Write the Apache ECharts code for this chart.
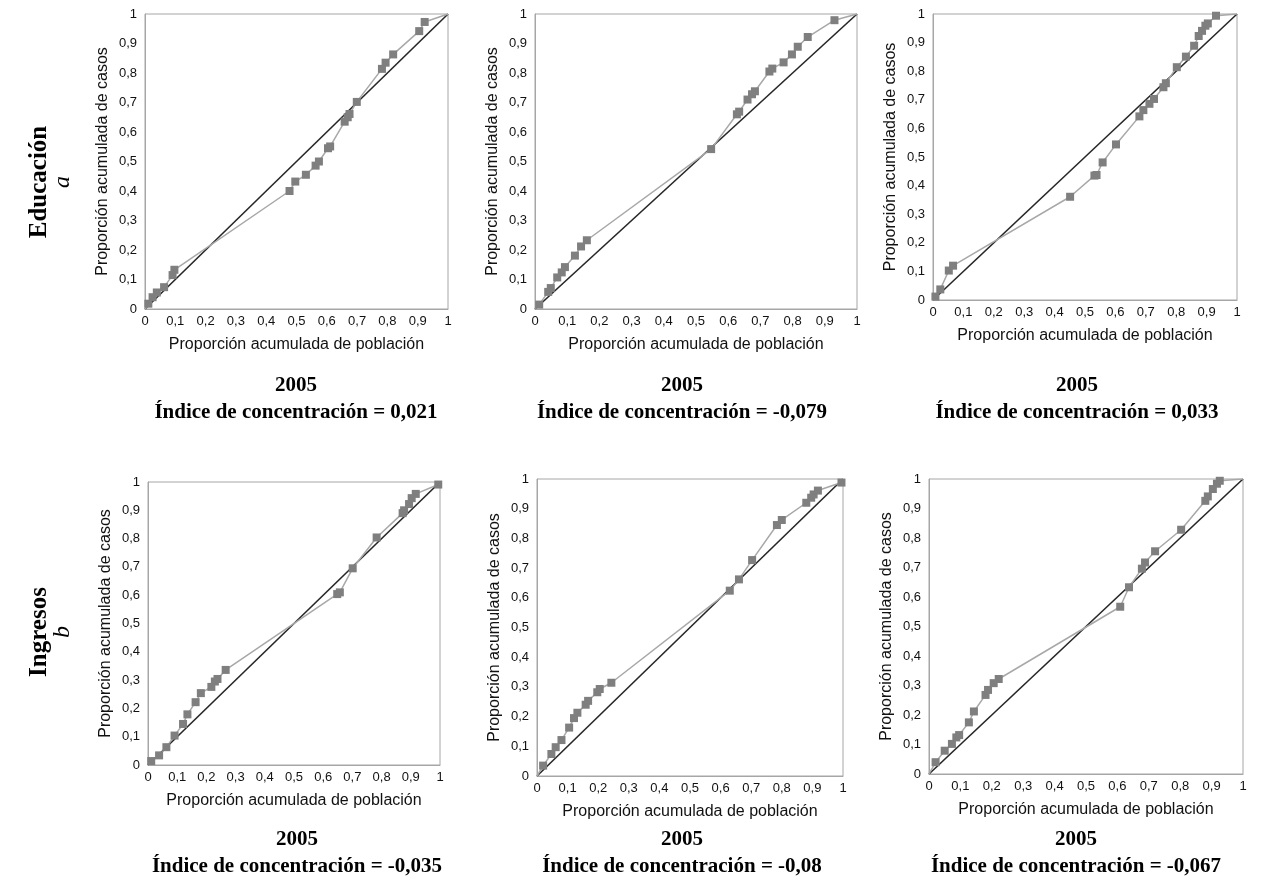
<!DOCTYPE html>
<html>
<head>
<meta charset="utf-8">
<script src="https://cdn.jsdelivr.net/npm/echarts@6/dist/echarts.min.js"></script>
<style>
html,body{margin:0;padding:0;background:#fff;}
#chart{width:1287px;height:890px;}
</style>
</head>
<body>
<div id="chart"></div>
<script>
// ---- data (cumulative population share, cumulative case share) ----
const educacion1 = [[0,0],[0.011,0.018],[0.025,0.04],[0.039,0.056],[0.063,0.074],[0.091,0.115],[0.097,0.133],[0.477,0.40],[0.496,0.432],[0.531,0.455],[0.563,0.486],[0.574,0.50],[0.604,0.545],[0.611,0.551],[0.659,0.635],[0.669,0.65],[0.675,0.661],[0.699,0.702],[0.782,0.814],[0.794,0.835],[0.819,0.863],[0.905,0.942],[0.923,0.973],[1,1]];
const educacion2 = [[0,0],[0.013,0.015],[0.041,0.058],[0.049,0.071],[0.069,0.107],[0.083,0.124],[0.093,0.142],[0.124,0.181],[0.143,0.212],[0.161,0.233],[0.547,0.542],[0.627,0.660],[0.634,0.669],[0.660,0.710],[0.674,0.728],[0.683,0.738],[0.728,0.805],[0.737,0.815],[0.772,0.836],[0.798,0.863],[0.816,0.889],[0.847,0.922],[0.930,0.979],[1,1]];
const educacion3 = [[0,0],[0.008,0.012],[0.024,0.037],[0.052,0.103],[0.066,0.120],[0.451,0.361],[0.531,0.435],[0.538,0.437],[0.558,0.481],[0.602,0.544],[0.679,0.642],[0.692,0.664],[0.712,0.686],[0.727,0.703],[0.758,0.744],[0.766,0.758],[0.802,0.814],[0.832,0.851],[0.859,0.889],[0.874,0.923],[0.885,0.941],[0.896,0.959],[0.904,0.967],[0.931,0.994],[1,1]];
const ingresos1 = [[0,0],[0.011,0.014],[0.038,0.034],[0.063,0.063],[0.091,0.104],[0.12,0.145],[0.135,0.179],[0.163,0.222],[0.181,0.254],[0.217,0.276],[0.229,0.295],[0.238,0.304],[0.266,0.336],[0.648,0.604],[0.657,0.610],[0.701,0.695],[0.783,0.804],[0.872,0.890],[0.877,0.900],[0.894,0.922],[0.903,0.943],[0.917,0.958],[0.994,0.991]];
const ingresos2 = [[0,0],[0.020,0.035],[0.047,0.074],[0.061,0.097],[0.080,0.121],[0.105,0.163],[0.121,0.195],[0.132,0.213],[0.159,0.240],[0.167,0.253],[0.197,0.282],[0.205,0.293],[0.243,0.314],[0.630,0.624],[0.660,0.662],[0.703,0.727],[0.784,0.845],[0.800,0.862],[0.880,0.920],[0.896,0.937],[0.904,0.948],[0.918,0.961],[0.995,0.988]];
const ingresos3 = [[0,0],[0.021,0.040],[0.050,0.079],[0.073,0.102],[0.087,0.124],[0.096,0.132],[0.127,0.175],[0.143,0.212],[0.180,0.268],[0.188,0.285],[0.206,0.308],[0.222,0.322],[0.609,0.567],[0.637,0.633],[0.678,0.696],[0.688,0.717],[0.720,0.755],[0.803,0.828],[0.880,0.926],[0.888,0.941],[0.904,0.966],[0.917,0.984],[0.926,0.994],[1,1]];
const equalityLine = [[0,0],[1,1]];
const panelYears = ['2005','2005','2005','2005','2005','2005'];
const concentrationIndex = ['0,021','-0,079','0,033','-0,035','-0,08','-0,067'];
const rowLabels = [['Educación','a'],['Ingresos','b']];
const xAxisTitle = 'Proporción acumulada de población';
const yAxisTitle = 'Proporción acumulada de casos';

const panelData = [educacion1, educacion2, educacion3, ingresos1, ingresos2, ingresos3];

// ---- layout (pixels) ----
const grids = [
  {left:145, top:14, width:303, height:295},
  {left:535, top:14, width:322, height:295},
  {left:933, top:14, width:304, height:286},
  {left:148, top:482, width:292, height:283},
  {left:537, top:479, width:306, height:297},
  {left:929, top:479, width:314, height:295}
];
const captionX = [296, 682, 1077, 297, 682, 1076];
const captionY = [[386,413],[386,413],[386,413],[840,867],[840,867],[840,867]];

const fmt = v => (Math.round(v*10)/10).toString().replace('.', ',');
const sans = 'Liberation Sans, Arial, sans-serif';
const serif = 'Liberation Serif, Times New Roman, serif';

const option = {
  backgroundColor:'#fff',
  animation:false,
  grid: grids.map(g => Object.assign({show:true, borderColor:'#a6a6a6', borderWidth:1, backgroundColor:'#fff'}, g)),
  xAxis: grids.map((g,i) => ({
    type:'value', gridIndex:i, min:0, max:1, interval:0.1,
    name:xAxisTitle, nameLocation:'middle', nameGap:28,
    nameTextStyle:{fontFamily:sans, fontSize:16, color:'#111'},
    axisLine:{show:true, lineStyle:{color:'#a6a6a6'}},
    axisTick:{show:false}, splitLine:{show:false},
    axisLabel:{formatter:fmt, fontFamily:sans, fontSize:13, color:'#111', margin:6}
  })),
  yAxis: grids.map((g,i) => ({
    type:'value', gridIndex:i, min:0, max:1, interval:0.1,
    name:yAxisTitle, nameLocation:'middle', nameGap:34, nameRotate:90,
    nameTextStyle:{fontFamily:sans, fontSize:16, color:'#111'},
    axisLine:{show:true, lineStyle:{color:'#a6a6a6'}},
    axisTick:{show:false}, splitLine:{show:false},
    axisLabel:{formatter:fmt, fontFamily:sans, fontSize:13, color:'#111', margin:8}
  })),
  series: [],
  graphic: []
};

panelData.forEach((pts,i) => {
  option.series.push({
    type:'line', xAxisIndex:i, yAxisIndex:i, data:equalityLine,
    symbol:'none', lineStyle:{color:'#262626', width:1.6}, z:2, silent:true
  });
  option.series.push({
    type:'line', xAxisIndex:i, yAxisIndex:i,
    data: pts.map(p => ((p[0]===0&&p[1]===0)||(p[0]===1&&p[1]===1)) ? {value:p, symbol:'none'} : {value:p}),
    symbol:'rect', symbolSize:8,
    itemStyle:{color:'#7f7f7f'},
    lineStyle:{color:'#a8a8a8', width:1.5},
    z:3, silent:true
  });
  option.graphic.push({
    type:'text', x:captionX[i], y:captionY[i][0],
    style:{text:panelYears[i], font:'bold 21px '+serif, fill:'#000', align:'center', verticalAlign:'middle'}
  });
  option.graphic.push({
    type:'text', x:captionX[i], y:captionY[i][1],
    style:{text:'Índice de concentración = '+concentrationIndex[i], font:'bold 21px '+serif, fill:'#000', align:'center', verticalAlign:'middle'}
  });
});

const rowCenters = [182, 632];
rowLabels.forEach((lbl,r) => {
  option.graphic.push({
    type:'text', x:40, y:rowCenters[r], rotation:Math.PI/2,
    style:{text:lbl[0], font:'bold 25px '+serif, fill:'#000', align:'center', verticalAlign:'middle'}
  });
  option.graphic.push({
    type:'text', x:63, y:rowCenters[r], rotation:Math.PI/2,
    style:{text:lbl[1], font:'italic 24px '+serif, fill:'#000', align:'center', verticalAlign:'middle'}
  });
});

const chart = echarts.init(document.getElementById('chart'), null, {renderer:'canvas'});
chart.setOption(option);
</script>
</body>
</html>
